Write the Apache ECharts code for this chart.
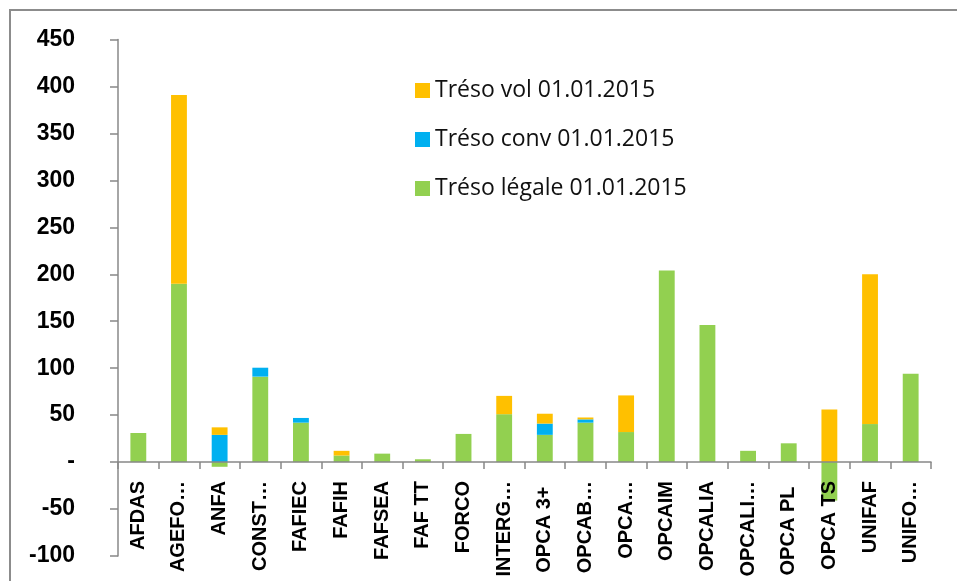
<!DOCTYPE html>
<html>
<head>
<meta charset="utf-8">
<script src="https://cdn.jsdelivr.net/npm/echarts@6/dist/echarts.min.js"></script>
<style>
  html, body { margin: 0; padding: 0; background: #fff; }
  #my_chart { width: 957px; height: 581px; }
</style>
</head>
<body>
<div id="my_chart"></div>
<script>
  // categories as shown on the axis (truncated in the source chart)
  var categories = ['AFDAS', 'AGEFO…', 'ANFA', 'CONST…', 'FAFIEC', 'FAFIH', 'FAFSEA', 'FAF TT', 'FORCO', 'INTERG…',
    'OPCA 3+ ', 'OPCAB…', 'OPCA…', 'OPCAIM', 'OPCALIA', 'OPCALI…', 'OPCA PL ', 'OPCA TS', 'UNIFAF', 'UNIFO…'];

  var tresoLegale = [31, 190, -5, 91, 42, 7, 9, 3, 30, 51, 29, 42, 32, 204, 146, 12, 20, -41, 40.5, 94];
  var tresoConv   = [0, 0, 29, 9.5, 5, 0, 0, 0, 0, 0, 12, 3.5, 0, 0, 0, 0, 0, 0, 0, 0];
  var tresoVol    = [0, 201, 8, 0, 0, 5, 0, 0, 0, 19.5, 10.5, 2, 39, 0, 0, 0, 0, 56, 159.5, 0];

  var yMin = -100, yMax = 450, yStep = 50;

  var my_chart = echarts.init(document.getElementById('my_chart'));
  var axisGray = '#888888';

  my_chart.setOption({
    animation: false,
    graphic: [{
      type: 'rect',
      shape: { x: 10, y: 10, width: 1200, height: 1200 },
      style: { fill: 'none', stroke: '#8c8c8c', lineWidth: 2 },
      silent: true
    }],
    legend: {
      orient: 'vertical',
      left: 410,
      top: 74,
      itemWidth: 15,
      itemHeight: 15,
      itemGap: 26,
      icon: 'rect',
      textStyle: { fontFamily: 'Open Sans', fontSize: 23, color: '#111' },
      data: ['Tréso vol 01.01.2015', 'Tréso conv 01.01.2015', 'Tréso légale 01.01.2015']
    },
    grid: { left: 118, right: 26, top: 39.5, bottom: 25, containLabel: false, outerBoundsMode: 'none' },
    xAxis: {
      type: 'category',
      data: categories,
      z: 5,
      axisLine: { onZero: true, lineStyle: { color: axisGray, width: 1.5 } },
      axisTick: { show: true, length: 7, lineStyle: { color: axisGray, width: 1.5 } },
      axisLabel: {
        // labels stay at the grid bottom in v6, pull them up under the zero line
        rotate: 90,
        interval: 0,
        margin: -75,
        color: '#000',
        fontFamily: 'Liberation Sans',
        fontWeight: 'bold',
        fontSize: 20
      }
    },
    yAxis: {
      type: 'value',
      min: yMin,
      max: yMax,
      interval: yStep,
      splitLine: { show: false },
      axisLine: { show: true, lineStyle: { color: axisGray, width: 1.5 } },
      axisTick: { show: true, length: 8, lineStyle: { color: axisGray, width: 1.5 } },
      axisLabel: {
        margin: 43,
        color: '#000',
        fontFamily: 'Liberation Sans',
        fontWeight: 'bold',
        fontSize: 23,
        formatter: function (v) { return v === 0 ? '-' : String(v); }
      }
    },
    series: [{
      name: 'Tréso légale 01.01.2015',
      type: 'bar',
      stack: 'treso',
      barWidth: '39%',
      itemStyle: { color: '#92D050' },
      data: tresoLegale
    }, {
      name: 'Tréso conv 01.01.2015',
      type: 'bar',
      stack: 'treso',
      itemStyle: { color: '#00B0F0' },
      data: tresoConv
    }, {
      name: 'Tréso vol 01.01.2015',
      type: 'bar',
      stack: 'treso',
      itemStyle: { color: '#FFC000' },
      data: tresoVol
    }]
  });
</script>
</body>
</html>
